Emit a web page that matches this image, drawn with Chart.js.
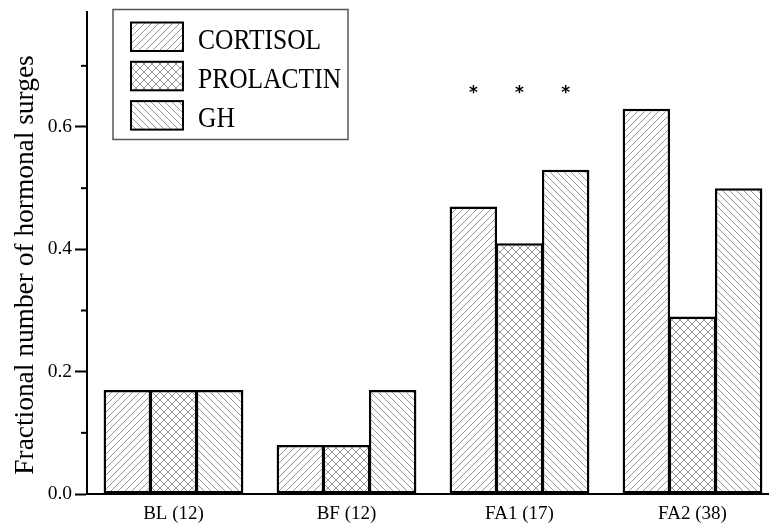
<!DOCTYPE html>
<html>
<head>
<meta charset="utf-8">
<script src="https://cdn.jsdelivr.net/npm/chart.js@4.4.1/dist/chart.umd.min.js"></script>
<style>
  html, body { margin: 0; padding: 0; background: #fff; overflow: hidden; }
  #wrap { position: relative; width: 780px; height: 527px; }
</style>
</head>
<body>
<div id="wrap"><canvas id="c"></canvas></div>
<script>
// ---- data ----
const categories = ['BL (12)', 'BF (12)', 'FA1 (17)', 'FA2 (38)'];
const seriesNames = ['CORTISOL', 'PROLACTIN', 'GH'];
const cortisol  = [0.17, 0.08, 0.47, 0.63];
const prolactin = [0.17, 0.08, 0.41, 0.29];
const gh        = [0.17, 0.17, 0.53, 0.50];
const significance = ['', '', '*', ''];   // marks above every bar of a group
const markLevel = 0.655;
const yTickLabels = ['0.0', '0.2', '0.4', '0.6'];
const yTitle = 'Fractional number of hormonal surges';

// ---- hatch patterns ----
function makePattern(kind, size) {
  const c = document.createElement('canvas');
  c.width = size; c.height = size;
  const g = c.getContext('2d');
  g.fillStyle = '#fff'; g.fillRect(0, 0, size, size);
  g.strokeStyle = '#8a8a8a'; g.lineWidth = 0.9;
  const fwd = () => { // "/"
    g.beginPath();
    g.moveTo(-1, size + 1); g.lineTo(size + 1, -1);
    g.moveTo(-1, 1); g.lineTo(1, -1);
    g.moveTo(size - 1, size + 1); g.lineTo(size + 1, size - 1);
    g.stroke();
  };
  const back = () => { // "\"
    g.beginPath();
    g.moveTo(-1, -1); g.lineTo(size + 1, size + 1);
    g.moveTo(size - 1, -1); g.lineTo(size + 1, 1);
    g.moveTo(-1, size - 1); g.lineTo(1, size + 1);
    g.stroke();
  };
  if (kind === 'fwd' || kind === 'cross') fwd();
  if (kind === 'back' || kind === 'cross') back();
  return g.createPattern(c, 'repeat');
}
const patterns = [makePattern('fwd', 7), makePattern('cross', 8), makePattern('back', 7)];

const serif = "'Liberation Serif', 'Times New Roman', serif";

// ---- custom drawing: minor ticks, y title, legend box, significance marks ----
const extras = {
  id: 'extras',
  afterDraw(chart) {
    const ctx = chart.ctx;
    const y = chart.scales.y;
    ctx.save();
    // minor ticks
    ctx.strokeStyle = '#000'; ctx.lineWidth = 2;
    y.ticks.forEach(t => {
      const k = Math.round(t.value * 10);
      if (k % 2 === 1) {
        const py = y.getPixelForValue(t.value);
        ctx.beginPath(); ctx.moveTo(y.right - 6, py); ctx.lineTo(y.right, py); ctx.stroke();
      }
    });
    // y axis title
    ctx.save();
    ctx.translate(33, 265);
    ctx.rotate(-Math.PI / 2);
    ctx.fillStyle = '#000';
    ctx.font = '27.4px ' + serif;
    ctx.textAlign = 'center'; ctx.textBaseline = 'alphabetic';
    ctx.fillText(yTitle, 0, 0);
    ctx.restore();
    // significance marks
    ctx.fillStyle = '#000';
    ctx.font = "bold 17px 'DejaVu Sans', sans-serif";
    ctx.textAlign = 'center'; ctx.textBaseline = 'middle';
    const py = y.getPixelForValue(markLevel);
    significance.forEach((m, i) => {
      if (!m) return;
      chart.data.datasets.forEach((ds, di) => {
        const bar = chart.getDatasetMeta(di).data[i];
        ctx.fillText(m, bar.x, py);
      });
    });
    // legend
    const lx = 113, ly = 9.5, lw = 235, lh = 130;
    ctx.strokeStyle = '#555'; ctx.lineWidth = 1.5;
    ctx.strokeRect(lx, ly, lw, lh);
    chart.data.datasets.forEach((ds, di) => {
      const sy = 22.5 + di * 39.3;
      ctx.fillStyle = ds.backgroundColor;
      ctx.fillRect(131, sy, 52, 28.5);
      ctx.strokeStyle = '#000'; ctx.lineWidth = 2;
      ctx.strokeRect(131, sy, 52, 28.5);
      ctx.save();
      ctx.translate(198, sy + 26);
      ctx.scale(1, 1.18);
      ctx.fillStyle = '#000';
      ctx.font = '25.5px ' + serif;
      ctx.textAlign = 'left'; ctx.textBaseline = 'alphabetic';
      ctx.fillText(ds.label, 0, 0);
      ctx.restore();
    });
    ctx.restore();
  }
};

new Chart(document.getElementById('c'), {
  type: 'bar',
  data: {
    labels: categories,
    datasets: [
      { label: seriesNames[0], data: cortisol,  backgroundColor: patterns[0] },
      { label: seriesNames[1], data: prolactin, backgroundColor: patterns[1] },
      { label: seriesNames[2], data: gh,        backgroundColor: patterns[2] }
    ].map(d => Object.assign(d, {
      borderColor: '#000', borderWidth: 2.5, borderSkipped: false,
      categoryPercentage: 0.8, barPercentage: 1.03
    }))
  },
  options: {
    responsive: true,
    maintainAspectRatio: false,
    animation: false,
    layout: { padding: { top: 12, right: 1, left: 0, bottom: 0 } },
    plugins: { legend: { display: false }, tooltip: { enabled: false } },
    scales: {
      x: {
        grid: { display: false, drawTicks: false },
        border: { display: true, color: '#000', width: 2 },
        ticks: { color: '#000', font: { family: serif, size: 19 }, padding: 9 },
        afterFit(s) { s.height = 33; }
      },
      y: {
        min: 0, max: 0.788,
        grid: {
          drawOnChartArea: false, drawTicks: true, tickLength: 12, tickWidth: 2,
          tickColor: c => (Math.round(c.tick.value * 10) % 2 === 0 ? '#000' : 'rgba(0,0,0,0)')
        },
        border: { display: true, color: '#000', width: 2 },
        ticks: {
          stepSize: 0.1, includeBounds: false, color: '#000', padding: 3,
          font: { family: serif, size: 19.5 },
          callback: v => {
            const k = Math.round(v * 10);
            return k % 2 === 0 ? yTickLabels[k / 2] : '';
          }
        },
        title: { display: false },
        afterFit(s) { s.width = 87; s.paddingTop = 0; s.paddingBottom = 0; }
      }
    }
  },
  plugins: [extras]
});
</script>
</body>
</html>
